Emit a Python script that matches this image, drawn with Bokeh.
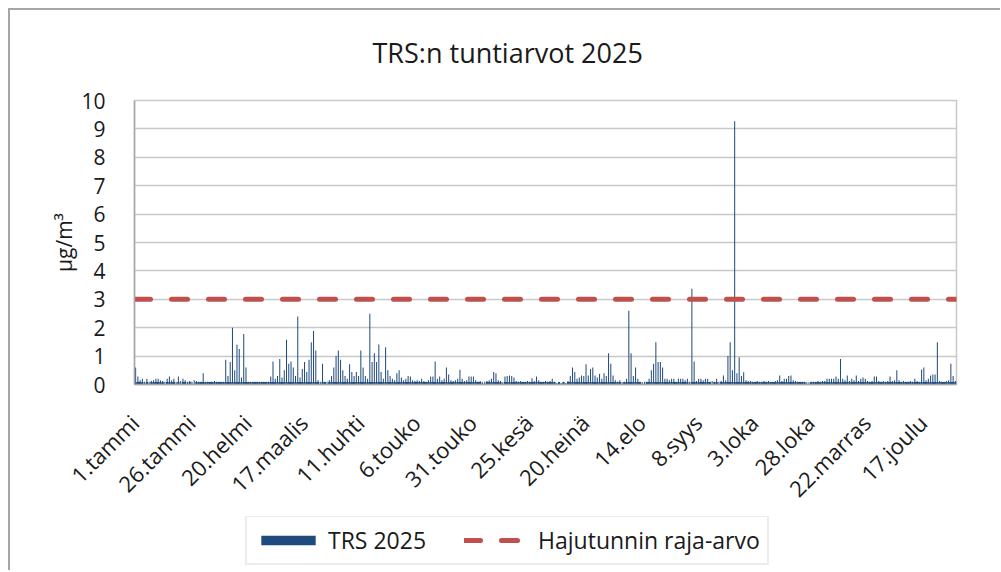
import math
from bokeh.plotting import figure
from bokeh.layouts import column
from bokeh.models import Range1d, FixedTicker, Legend, LegendItem, ColumnDataSource
from bokeh.embed import file_html
from bokeh.resources import INLINE

# ---------------- data (daily peak of hourly TRS values, µg/m3) ----------------
jan_peak = [0.6, 0.28, 0.15, 0.2, 0.1, 0.2, 0.1, 0.12, 0.15, 0.2,
            0.2, 0.15, 0.12, 0.1, 0.2, 0.28, 0.15, 0.2, 0.1, 0.28,
            0.12, 0.2, 0.15, 0.1, 0.12, 0.1, 0.15, 0.12, 0.1, 0.1,
            0.4]
feb_peak = [0.1, 0.1, 0.1, 0.1, 0.12, 0.1, 0.1, 0.1, 0.1,
            0.87, 0.3, 0.79, 2.0, 0.5, 1.4, 1.25, 0.25, 1.78, 0.6,
            0.1, 0.1, 0.1, 0.1, 0.1, 0.1, 0.1, 0.1, 0.1]
mar_peak = [0.1, 0.28, 0.81, 0.2, 0.3, 0.9, 0.25, 0.5, 1.58, 0.73,
            0.81, 0.6, 0.3, 2.39, 0.25, 0.55, 0.79, 0.44, 0.87, 1.49,
            1.88, 1.2, 0.15, 0.1, 0.73, 0.1, 0.1, 0.15, 0.3, 0.6,
            1.0]
apr_peak = [1.2, 0.87, 0.5, 0.3, 0.2, 0.71, 0.44, 0.3, 0.44, 0.3,
            1.2, 0.6, 0.3, 0.2, 2.49, 0.79, 1.1, 0.79, 1.41, 0.44,
            0.2, 1.31, 0.5, 0.3, 0.2, 0.15, 0.4, 0.5, 0.25, 0.15]
may_peak = [0.2, 0.3, 0.28, 0.15, 0.12, 0.15, 0.12, 0.2, 0.12, 0.1,
            0.15, 0.28, 0.28, 0.81, 0.2, 0.28, 0.15, 0.2, 0.6, 0.35,
            0.15, 0.12, 0.15, 0.2, 0.52, 0.2, 0.12, 0.15, 0.28, 0.28,
            0.28]
jun_peak = [0.15, 0.1, 0.12, 0.08, 0.1, 0.12, 0.15, 0.2, 0.44, 0.4,
            0.15, 0.12, 0.08, 0.28, 0.3, 0.32, 0.3, 0.25, 0.12, 0.1,
            0.12, 0.1, 0.1, 0.12, 0.1, 0.22, 0.12, 0.28, 0.15, 0.1]
jul_peak = [0.1, 0.12, 0.1, 0.12, 0.2, 0.1, 0.05, 0.08, 0.05, 0.1,
            0.05, 0.12, 0.3, 0.6, 0.44, 0.2, 0.25, 0.32, 0.3, 0.71,
            0.32, 0.55, 0.6, 0.32, 0.25, 0.37, 0.2, 0.4, 0.3, 1.1,
            0.73]
aug_peak = [0.32, 0.15, 0.1, 0.15, 0.08, 0.1, 0.2, 2.6, 1.1, 0.3,
            0.6, 0.2, 0.1, 0.08, 0.1, 0.1, 0.2, 0.5, 0.73, 1.49,
            0.79, 0.79, 0.6, 0.2, 0.2, 0.15, 0.2, 0.2, 0.1, 0.2,
            0.2]
sep_peak = [0.2, 0.15, 0.2, 0.1, 3.37, 0.81, 0.12, 0.2, 0.2, 0.15,
            0.2, 0.2, 0.1, 0.12, 0.1, 0.2, 0.1, 0.12, 0.32, 0.15,
            1.0, 1.49, 0.5, 9.27, 0.4, 0.96, 0.3, 0.43, 0.15, 0.12]
oct_peak = [0.12, 0.1, 0.1, 0.12, 0.1, 0.1, 0.12, 0.1, 0.12, 0.1,
            0.1, 0.12, 0.15, 0.32, 0.12, 0.2, 0.2, 0.3, 0.32, 0.15,
            0.12, 0.1, 0.1, 0.1, 0.1, 0.08, 0.08, 0.1, 0.1, 0.1,
            0.12]
nov_peak = [0.1, 0.12, 0.12, 0.2, 0.2, 0.2, 0.2, 0.28, 0.2, 0.9,
            0.2, 0.15, 0.32, 0.12, 0.2, 0.15, 0.32, 0.12, 0.2, 0.25,
            0.2, 0.12, 0.1, 0.12, 0.28, 0.28, 0.12, 0.1, 0.12, 0.1]
dec_peak = [0.12, 0.28, 0.12, 0.15, 0.5, 0.15, 0.1, 0.12, 0.1, 0.1,
            0.12, 0.1, 0.2, 0.12, 0.1, 0.53, 0.6, 0.15, 0.2, 0.32,
            0.35, 0.35, 1.49, 0.12, 0.1, 0.1, 0.12, 0.15, 0.73, 0.3,
            0.12]

# typical (background) hourly level for each day
jan_base = [0.09, 0.09, 0.09, 0.09, 0.0, 0.09, 0.0, 0.09, 0.09, 0.09,
            0.09, 0.09, 0.09, 0.0, 0.09, 0.09, 0.09, 0.09, 0.0, 0.09,
            0.0, 0.09, 0.09, 0.0, 0.09, 0.0, 0.0, 0.09, 0.09, 0.09,
            0.09]
feb_base = [0.09, 0.09, 0.09, 0.09, 0.09, 0.09, 0.09, 0.09, 0.09, 0.09,
            0.09, 0.09, 0.09, 0.09, 0.09, 0.09, 0.09, 0.09, 0.09, 0.09,
            0.09, 0.09, 0.09, 0.09, 0.09, 0.09, 0.09, 0.09]
mar_base = [0.09, 0.09, 0.09, 0.09, 0.09, 0.09, 0.09, 0.09, 0.09, 0.09,
            0.09, 0.09, 0.09, 0.09, 0.09, 0.09, 0.09, 0.09, 0.09, 0.09,
            0.09, 0.09, 0.09, 0.0, 0.09, 0.09, 0.0, 0.09, 0.09, 0.09,
            0.09]
apr_base = [0.09, 0.09, 0.09, 0.09, 0.09, 0.09, 0.09, 0.09, 0.09, 0.09,
            0.09, 0.09, 0.09, 0.09, 0.09, 0.09, 0.09, 0.09, 0.09, 0.09,
            0.09, 0.09, 0.09, 0.09, 0.09, 0.09, 0.09, 0.09, 0.09, 0.09]
may_base = [0.09, 0.09, 0.09, 0.09, 0.09, 0.09, 0.09, 0.09, 0.09, 0.09,
            0.09, 0.09, 0.09, 0.09, 0.09, 0.09, 0.09, 0.09, 0.09, 0.09,
            0.09, 0.09, 0.09, 0.09, 0.09, 0.09, 0.09, 0.09, 0.09, 0.09,
            0.09]
jun_base = [0.09, 0.09, 0.09, 0.0, 0.0, 0.09, 0.09, 0.09, 0.09, 0.09,
            0.09, 0.09, 0.0, 0.09, 0.09, 0.09, 0.09, 0.09, 0.09, 0.09,
            0.09, 0.09, 0.09, 0.09, 0.09, 0.09, 0.09, 0.09, 0.09, 0.09]
jul_base = [0.09, 0.09, 0.09, 0.09, 0.09, 0.09, 0.0, 0.09, 0.0, 0.09,
            0.0, 0.09, 0.09, 0.09, 0.09, 0.09, 0.09, 0.09, 0.09, 0.09,
            0.09, 0.09, 0.09, 0.09, 0.09, 0.09, 0.09, 0.09, 0.09, 0.09,
            0.09]
aug_base = [0.09, 0.09, 0.09, 0.09, 0.0, 0.09, 0.09, 0.09, 0.09, 0.09,
            0.09, 0.09, 0.09, 0.0, 0.0, 0.09, 0.09, 0.09, 0.09, 0.09,
            0.09, 0.09, 0.09, 0.09, 0.09, 0.09, 0.09, 0.09, 0.09, 0.09,
            0.09]
sep_base = [0.09, 0.09, 0.09, 0.0, 0.09, 0.09, 0.09, 0.09, 0.09, 0.09,
            0.09, 0.09, 0.09, 0.0, 0.09, 0.09, 0.0, 0.09, 0.09, 0.09,
            0.09, 0.09, 0.09, 0.09, 0.09, 0.09, 0.09, 0.09, 0.09, 0.09]
oct_base = [0.09, 0.09, 0.09, 0.09, 0.09, 0.09, 0.09, 0.09, 0.09, 0.09,
            0.09, 0.09, 0.09, 0.09, 0.09, 0.09, 0.09, 0.09, 0.09, 0.09,
            0.09, 0.09, 0.09, 0.09, 0.09, 0.0, 0.0, 0.09, 0.09, 0.09,
            0.09]
nov_base = [0.09, 0.09, 0.09, 0.09, 0.09, 0.09, 0.09, 0.09, 0.09, 0.09,
            0.09, 0.09, 0.09, 0.09, 0.09, 0.09, 0.09, 0.09, 0.09, 0.09,
            0.09, 0.09, 0.09, 0.09, 0.09, 0.09, 0.09, 0.09, 0.09, 0.09]
dec_base = [0.09, 0.09, 0.09, 0.09, 0.09, 0.09, 0.09, 0.09, 0.09, 0.09,
            0.09, 0.09, 0.09, 0.09, 0.09, 0.09, 0.09, 0.09, 0.09, 0.09,
            0.09, 0.09, 0.09, 0.09, 0.09, 0.09, 0.09, 0.09, 0.09, 0.09,
            0.09]

limit_value = 3.0  # Hajutunnin raja-arvo

tick_days = [0, 25, 50, 75, 100, 125, 150, 175, 200, 225, 250, 275, 300, 325, 350]
tick_labels = ["1.tammi", "26.tammi", "20.helmi", "17.maalis", "11.huhti",
               "6.touko", "31.touko", "25.kesä", "20.heinä", "14.elo",
               "8.syys", "3.loka", "28.loka", "22.marras", "17.joulu"]

peak = (jan_peak + feb_peak + mar_peak + apr_peak + may_peak + jun_peak +
        jul_peak + aug_peak + sep_peak + oct_peak + nov_peak + dec_peak)
base = (jan_base + feb_base + mar_base + apr_base + may_base + jun_base +
        jul_base + aug_base + sep_base + oct_base + nov_base + dec_base)
n_days = len(peak)
day_index = list(range(n_days))
day_mid = [d + 0.5 for d in day_index]
limit_x = [0, n_days]
limit_y = [limit_value, limit_value]

src = ColumnDataSource(dict(x=day_mid, peak=peak, base=base))

FONT = "Open Sans"
BLUE = "#1F4A7D"
RED = "#C0504D"
GRID = "#C8C8C8"
AXIS = "#A6A6A6"
TXT = "#1A1A1A"
DASH = "16 21"

# main chart: its canvas starts at the page top (transparent), so the
# chart-area border of the wrapping column shows through at 8 px
p = figure(width=990, height=516, output_backend="svg", toolbar_location=None,
           x_range=Range1d(0, n_days), y_range=Range1d(0, 10),
           min_border_left=124, min_border_right=44, min_border_top=100,
           min_border_bottom=132)
p.styles = {"margin-top": "-10px"}

p.title.text = "TRS:n tuntiarvot 2025"
p.title.text_font = FONT
p.title.text_font_size = "27px"
p.title.text_font_style = "normal"
p.title.text_color = TXT
p.title.align = "left"
p.title.offset = 238
p.title.standoff = 60

p.outline_line_color = GRID
p.outline_line_width = 1.5
p.background_fill_color = "white"
p.border_fill_color = None

p.xgrid.visible = False
p.ygrid.grid_line_color = GRID
p.ygrid.grid_line_width = 1.5
p.yaxis.ticker = FixedTicker(ticks=list(range(0, 11)))
p.xaxis.ticker = FixedTicker(ticks=tick_days)
p.xaxis.major_label_overrides = {d: lab for d, lab in zip(tick_days, tick_labels)}
p.xaxis.major_label_orientation = math.pi / 4

for ax in (p.xaxis[0], p.yaxis[0]):
    ax.axis_line_color = AXIS
    ax.axis_line_width = 1.5
    ax.major_tick_line_color = None
    ax.minor_tick_line_color = None
    ax.major_label_text_font = FONT
    ax.major_label_text_color = TXT

p.xaxis.major_label_text_font_size = "22px"
p.yaxis.major_label_text_font_size = "21px"
p.xaxis.major_label_standoff = 28
p.yaxis.major_label_standoff = 23
p.yaxis.axis_label = "µg/m³"
p.yaxis.axis_label_text_font = FONT
p.yaxis.axis_label_text_font_size = "21px"
p.yaxis.axis_label_text_font_style = "normal"
p.yaxis.axis_label_text_color = TXT
p.yaxis.axis_label_standoff = 0

# background band
p.vbar(x="x", top="base", width=1.0, bottom=0, source=src,
       fill_color=BLUE, line_color=None)
# daily hourly peaks
p.vbar(x="x", top="peak", width=0.45, bottom=0, source=src,
       fill_color=BLUE, line_color=None)

p.line(x=limit_x, y=limit_y, line_color=RED,
       line_width=5, line_dash=DASH, line_cap="round")

# ---------------- legend strip (same series, drawn out of view) ----------------
pl = figure(width=990, height=54, output_backend="svg", toolbar_location=None,
            x_range=Range1d(0, n_days), y_range=Range1d(100, 101),
            x_axis_type=None, y_axis_type=None,
            min_border_left=124, min_border_right=44, min_border_top=0,
            min_border_bottom=0)
pl.outline_line_color = None
pl.border_fill_color = None
pl.background_fill_color = None
pl.xgrid.visible = False
pl.ygrid.visible = False
leg_bar = pl.vbar(x="x", top="peak", width=0.45, bottom=0, source=src,
                  fill_color=BLUE, line_color=None)
leg_line = pl.line(x=limit_x, y=limit_y, line_color=RED, line_width=5,
                   line_dash=DASH, line_cap="round")

legend = Legend(items=[LegendItem(label="TRS 2025", renderers=[leg_bar]),
                       LegendItem(label="Hajutunnin raja-arvo", renderers=[leg_line])],
                orientation="horizontal", location=(111, 5))
legend.label_text_font = FONT
legend.label_text_font_size = "23px"
legend.label_text_color = TXT
legend.glyph_width = 68
legend.glyph_height = 12
legend.label_height = 24
legend.label_standoff = 6
legend.spacing = 38
legend.padding = 7
legend.margin = 0
legend.border_line_color = "#D9D9D9"
legend.border_line_width = 2
legend.background_fill_color = "white"
pl.add_layout(legend, "center")

lay = column(p, pl, spacing=0)
lay.styles = {"margin-left": "8px", "margin-top": "8px",
              "border-left": "2px solid #A6A6A6", "border-top": "2px solid #A6A6A6"}

open("out.html", "w").write(file_html(lay, INLINE))
